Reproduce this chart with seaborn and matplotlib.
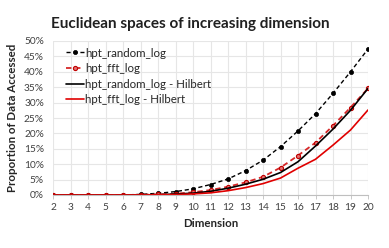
import numpy as np
import pandas as pd
import seaborn as sns
import matplotlib.pyplot as plt
from matplotlib.ticker import PercentFormatter

dims = list(range(2, 21))
hpt_random_log = [0, 0, 0, 0, 0, 0.2, 0.55, 1.1, 2.0, 3.4, 5.2, 7.9, 11.3, 15.7, 20.8, 26.4, 33.0, 40.0, 47.4]
hpt_fft_log = [0, 0, 0, 0, 0, 0.05, 0.2, 0.4, 0.9, 1.6, 2.7, 4.1, 5.9, 8.9, 12.8, 17.0, 22.5, 28.4, 34.6]
hpt_random_hilbert = [0, 0, 0, 0, 0, 0.03, 0.1, 0.3, 0.6, 1.2, 2.2, 3.5, 5.1, 7.3, 10.8, 15.9, 21.4, 27.5, 34.6]
hpt_fft_hilbert = [0, 0, 0, 0, 0, 0.02, 0.06, 0.15, 0.35, 0.7, 1.4, 2.4, 3.7, 5.5, 8.7, 11.6, 16.2, 21.1, 27.6]

names = ["hpt_random_log", "hpt_fft_log", "hpt_random_log - Hilbert", "hpt_fft_log - Hilbert"]
df = pd.DataFrame({
    "Dimension": dims * 4,
    "value": hpt_random_log + hpt_fft_log + hpt_random_hilbert + hpt_fft_hilbert,
    "series": np.repeat(names, len(dims)),
})

sns.set_style("whitegrid")
plt.rcParams["font.family"] = ["Lato", "DejaVu Sans"]

fig = plt.figure(figsize=(3.89, 2.48), dpi=100)
ax = fig.add_axes([53 / 389, 1 - 195 / 248, 315 / 389, 154 / 248])

palette = {names[0]: "black", names[1]: "#d62728", names[2]: "black", names[3]: "#e00000"}
styles = {
    names[0]: dict(ls=(0, (3, 2)), marker="o", ms=3.0, lw=1.0, mfc="black", mec="black"),
    names[1]: dict(ls=(0, (3, 2)), marker="o", ms=3.0, lw=1.3, mfc="#e07070", mec="#c00000", mew=0.8),
    names[2]: dict(ls="-", marker=None, lw=1.2),
    names[3]: dict(ls="-", marker=None, lw=1.2),
}
for name in names:
    sub = df[df["series"] == name]
    st = styles[name]
    sns.lineplot(data=sub, x="Dimension", y="value", ax=ax, color=palette[name],
                 label=name, linestyle=st["ls"], marker=st["marker"], markersize=st.get("ms", 0),
                 linewidth=st["lw"], markerfacecolor=st.get("mfc"), markeredgecolor=st.get("mec"),
                 markeredgewidth=st.get("mew", 0.5))

ax.set_xlim(2, 20)
ax.set_ylim(0, 50)
ax.set_xticks(dims)
ax.set_yticks(range(0, 51, 5))
ax.yaxis.set_major_formatter(PercentFormatter(decimals=0))
ax.tick_params(axis="both", labelsize=7.3, colors="#404040", pad=3)
ax.tick_params(axis="x", bottom=True, length=3, color="#bfbfbf", width=0.6)
ax.grid(True, color="#e6e6e6", lw=0.8)
for s in ["top", "right", "left"]:
    ax.spines[s].set_visible(False)
ax.spines["bottom"].set_color("#bfbfbf")
ax.spines["bottom"].set_linewidth(0.8)

ax.set_xlabel("Dimension", fontsize=8.3, fontweight="bold", color="#262626", labelpad=4)
ax.set_ylabel("Proportion of Data Accessed", fontsize=8.3, fontweight="bold", color="#262626", labelpad=4)
fig.text(0.49, 0.905, "Euclidean spaces of increasing dimension", ha="center", va="center",
         fontsize=11, fontweight="bold", color="#202020")

leg = ax.legend(loc="upper left", frameon=False, fontsize=8.3, handlelength=1.6,
                handletextpad=0.05, labelspacing=0.4, borderaxespad=0.3, bbox_to_anchor=(0.015, 1.01))
for t in leg.get_texts():
    t.set_color("#262626")

fig.savefig("out.png", dpi=100)
